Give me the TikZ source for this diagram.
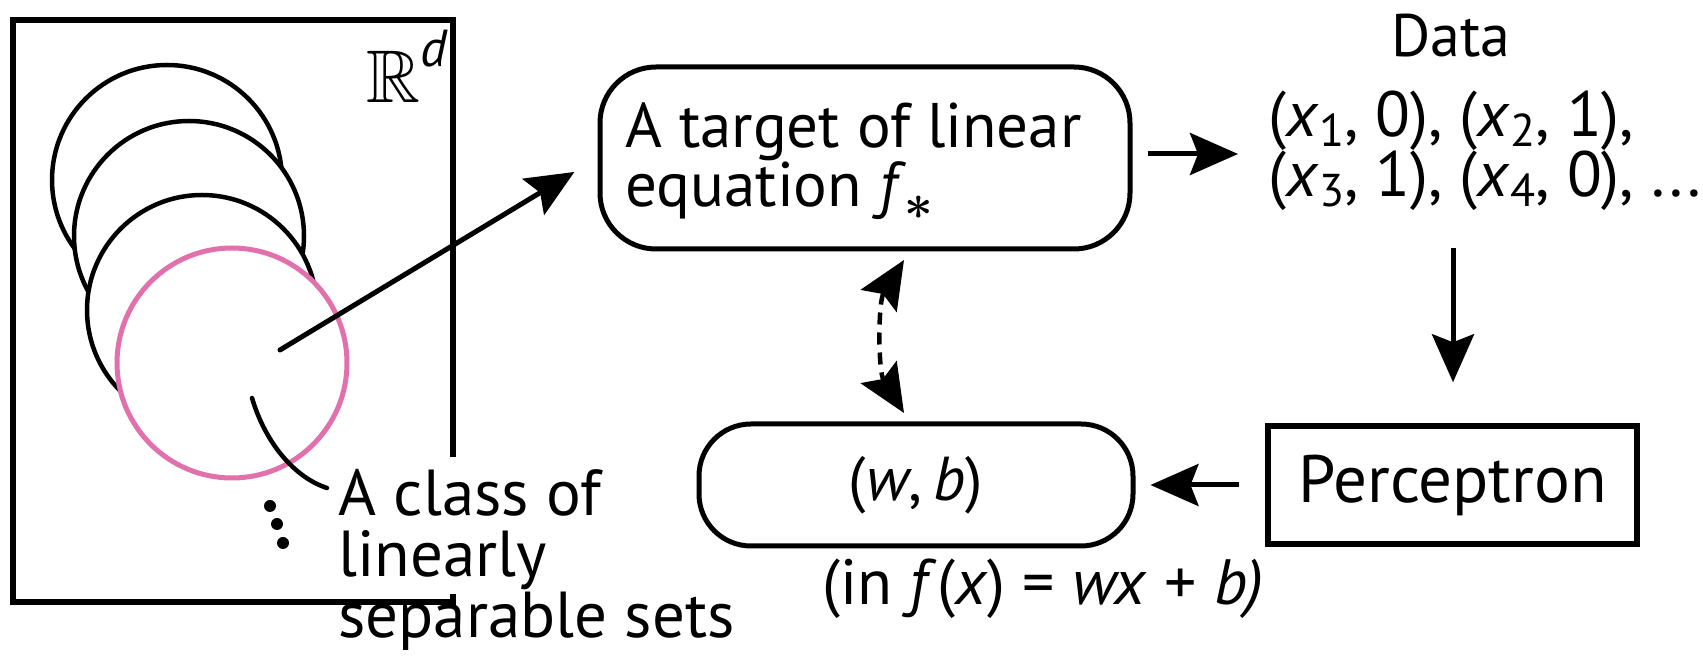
\documentclass[tikz,border=0pt]{standalone}
\usepackage{amssymb}
\usepackage{fontspec}
\setmainfont{PT Sans}
\usetikzlibrary{arrows.meta,calc}
\definecolor{pinkc}{RGB}{226,112,172}
\newcommand\sbs[1]{\raisebox{-5pt}{\fontsize{23}{23}\selectfont #1}}
\begin{document}
\begin{tikzpicture}[x=0.5pt,y=-0.5pt,
  arr/.style={line width=2.5pt,-{Stealth[length=24pt,width=21pt,inset=4pt]}},
  dbl/.style={line width=2.25pt,dash pattern=on 6pt off 4pt,{Stealth[length=24pt,width=21pt,inset=4pt]}-{Stealth[length=24pt,width=21pt,inset=4pt]}},
  ring/.style={line width=2.25pt,fill=white},
  rbox/.style={draw,line width=2.5pt,rounded corners=28pt,inner sep=0pt},
  sqbox/.style={draw,line width=2.75pt,inner sep=0pt},
  txt/.style={inner sep=0pt}
]
\useasboundingbox (0,0) rectangle (1703,656);
% space box
\draw[line width=2.75pt] (453,457) -- (453,20) -- (13,20) -- (13,602) -- (453,602) -- (453,594);
\node[txt,anchor=base west] (rd) at (366,103)
  {\scalebox{1.5}{\fontsize{24.88}{24.88}\selectfont$\mathbb{R}$}\raisebox{18pt}{\fontsize{26}{26}\selectfont\itshape d}};
% circles
\draw[ring] (167,180) circle[radius=57.5pt];
\draw[ring] (189,236) circle[radius=57.5pt];
\draw[ring] (202,310) circle[radius=57.5pt];
\draw[ring,draw=pinkc,line width=2.5pt] (232,363) circle[radius=57.5pt];
% dots
\fill (270,506) circle[radius=3pt];
\fill (277,524) circle[radius=3pt];
\fill (283,543) circle[radius=3pt];
% class label
\node[txt,anchor=base west,font=\fontsize{32.5}{30.5}\selectfont] (cls) at (338,516)
  {\vtop{\hbox{A class of}\hbox{linearly}\hbox{separable sets}}};
\coordinate (cs) at (252,398);
\coordinate (ce) at (327,488);
\draw[line width=2.25pt,line cap=round] (cs) .. controls (266,445) and (296,478) .. (ce);
% target box
\node[rbox,minimum width=265pt,minimum height=91pt] (target) at (865,158) {};
\node[txt,anchor=base west,font=\fontsize{31.5}{29.5}\selectfont] (ttext) at (625,148)
  {\vtop{\hbox{A target of linear}\hbox{equation \textit{f}\kern-1pt\raisebox{-6.5pt}{\fontsize{24.88}{24.88}\selectfont\boldmath$\ast$}}}};
\coordinate (src) at (280,350);
\draw[arr,line cap=round,shorten >=13.5pt] (src) -- (target.west);
% data
\node[txt,anchor=base,font=\fontsize{30}{30}\selectfont] (dtitle) at (1451,57) {Data};
\node[txt,anchor=base west,font=\fontsize{32}{30}\selectfont] (pairs) at (1268,137)
  {\vtop{\hbox{(\textit{x}\sbs{1}, 0), (\textit{x}\sbs{2}, 1),}\hbox{(\textit{x}\sbs{3}, 1), (\textit{x}\sbs{4}, 0), ...}}};
\coordinate (din) at (1238,154);
\draw[arr,shorten <=7.5pt] (target.east |- din) -- (din);
% perceptron
\node[sqbox,minimum width=184.5pt,minimum height=59pt,font=\fontsize{33.5}{33.5}\selectfont] (perc) at (1452.5,485) {Perceptron};
\coordinate (dout) at (1453,248);
\draw[arr,shorten >=20.5pt] (dout) -- (dout |- perc.north);
% (w,b)
\node[rbox,rounded corners=26pt,minimum width=217pt,minimum height=61pt,font=\fontsize{31}{31}\selectfont] (wb) at (916,485)
  {(\textit{w},\hspace{0.18em}\textit{b})};
\draw[arr,shorten <=13pt,shorten >=7.5pt] (perc.west) -- (wb.east);
\node[txt,anchor=base west,font=\fontsize{32}{32}\selectfont] (form) at (822,605)
  {(in \textit{f}(\textit{x}) = \textit{wx} + \textit{b)}};
% dashed link
\coordinate (d1) at (904,260);
\coordinate (d2) at (904,413);
\draw[dbl] (d1) .. controls (878,302) and (878,371) .. (d2);
\end{tikzpicture}
\end{document}
